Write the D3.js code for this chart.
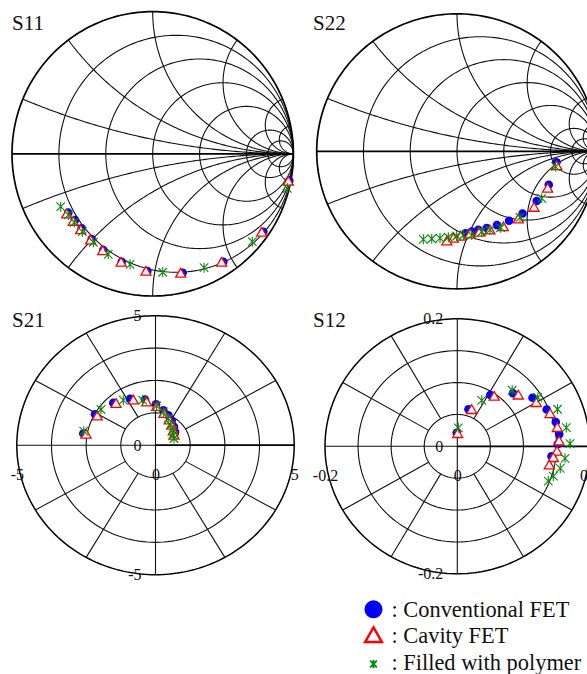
<!DOCTYPE html>
<html lang="en">
<head>
<meta charset="UTF-8">
<script src="https://d3js.org/d3.v7.min.js"></script>
<style>
  body { margin: 0; background: #fff; }
  svg { display: block; font-family: "Liberation Serif", "Times New Roman", serif; }
  .grid { fill: none; stroke: #111; stroke-width: 1.1px; }
  .rim { fill: none; stroke: #000; stroke-width: 1.7px; }
  .title { font-size: 21px; fill: #111; }
  .legend text { font-size: 22.4px; fill: #111; }
</style>
</head>
<body>
<svg id="chart"></svg>
<script>
// smith chart grid values
const smithR = [0.2, 0.5, 1, 2, 5, 10];
const smithX = [0.2, 0.5, 1, 2, 5, 10];

// polar grid
const polarRings = [0.25, 0.5, 0.75];
const spokeAngles = [30, 60, 120, 150, 210, 240, 300, 330];
const s21Ticks = [-5, 0, 5];
const s12Ticks = [-0.2, 0, 0.2];

const seriesNames = [": Conventional FET", ": Cavity FET", ": Filled with polymer"];

const s11Conv = [[0.971,-0.189],[0.786,-0.548],[0.502,-0.759],[0.213,-0.836],[-0.038,-0.824],[-0.220,-0.759],[-0.351,-0.677],[-0.434,-0.599],[-0.505,-0.524],[-0.552,-0.466],[-0.600,-0.414]];
const s11Cav = [[0.964,-0.200],[0.775,-0.559],[0.490,-0.770],[0.199,-0.847],[-0.048,-0.833],[-0.225,-0.770],[-0.355,-0.688],[-0.441,-0.613],[-0.512,-0.541],[-0.564,-0.482],[-0.611,-0.430]];
const s11Poly = [[0.957,-0.243],[0.708,-0.618],[0.365,-0.801],[0.071,-0.833],[-0.161,-0.777],[-0.316,-0.707],[-0.422,-0.622],[-0.500,-0.548],[-0.557,-0.482],[-0.600,-0.430],[-0.654,-0.372]];

const s22Conv = [[0.709,-0.080],[0.654,-0.243],[0.568,-0.361],[0.467,-0.452],[0.371,-0.505],[0.285,-0.537],[0.212,-0.558],[0.152,-0.570],[0.105,-0.583],[0.061,-0.596]];
const s22Cav = [[0.711,-0.112],[0.646,-0.276],[0.549,-0.415],[0.437,-0.500],[0.330,-0.556],[0.235,-0.580],[0.159,-0.596],[0.093,-0.609],[0.026,-0.625],[-0.026,-0.640],[-0.073,-0.660]];
const s22Poly = [[0.703,-0.112],[0.604,-0.342],[0.449,-0.480],[0.311,-0.556],[0.235,-0.572],[0.176,-0.585],[0.105,-0.609],[0.045,-0.609],[-0.002,-0.616],[-0.062,-0.625],[-0.121,-0.631],[-0.180,-0.636],[-0.240,-0.640]];

const s21Conv = [[-2.603,0.452],[-2.181,1.197],[-1.521,1.633],[-0.919,1.788],[-0.379,1.764],[0.018,1.583],[0.281,1.351],[0.461,1.158],[0.584,0.938],[0.667,0.707],[0.703,0.514]];
const s21Cav = [[-2.505,0.386],[-2.098,1.093],[-1.424,1.571],[-0.800,1.710],[-0.317,1.633],[0.043,1.456],[0.306,1.185],[0.497,0.938],[0.584,0.734],[0.642,0.514],[0.667,0.347]];
const s21Poly = [[-2.585,0.541],[-1.965,1.378],[-1.161,1.737],[-0.469,1.737],[0.043,1.517],[0.281,1.286],[0.461,1.031],[0.548,0.772],[0.620,0.579],[0.642,0.386],[0.667,0.259]];

const s12Conv = [[-0.0009,0.0212],[0.0169,0.0581],[0.0499,0.0805],[0.0842,0.0832],[0.1137,0.0761],[0.1352,0.0577],[0.1489,0.0381],[0.1541,0.0191],[0.1518,0.0031],[0.1424,-0.0157]];
const s12Cav = [[0.0006,0.0184],[0.0218,0.0560],[0.0558,0.0769],[0.0922,0.0788],[0.1194,0.0670],[0.1402,0.0497],[0.1512,0.0278],[0.1538,0.0067],[0.1507,-0.0094],[0.1452,-0.0193],[0.1391,-0.0309]];
const s12Poly = [[0.0015,0.0290],[0.0369,0.0722],[0.0830,0.0879],[0.1217,0.0766],[0.1515,0.0581],[0.1648,0.0293],[0.1704,0.0042],[0.1628,-0.0188],[0.1557,-0.0345],[0.1452,-0.0468],[0.1376,-0.0546]];

const W = 587, H = 674;
const blue = "#0000ff", red = "#ff0000", green = "#0a8a0a";

const panels = [
  {name: "S11", type: "smith", cx: 152.7, cy: 153.8, rx: 140.7, ry: 142.2, max: 1, tx: 12, ty: 29.5, data: [s11Conv, s11Cav, s11Poly]},
  {name: "S22", type: "smith", cx: 457, cy: 151.3, rx: 140.3, ry: 137.5, max: 1, tx: 313, ty: 29.5, data: [s22Conv, s22Cav, s22Poly]},
  {name: "S21", type: "polar", cx: 155.5, cy: 445.2, rx: 138.7, ry: 129.5, max: 5, ticks: s21Ticks, tx: 12, ty: 326.5, data: [s21Conv, s21Cav, s21Poly]},
  {name: "S12", type: "polar", cx: 457.3, cy: 446.3, rx: 132.3, ry: 127.5, max: 0.2, ticks: s12Ticks, tx: 313, ty: 326.5, data: [s12Conv, s12Cav, s12Poly]}
];

const svg = d3.select("#chart").attr("width", W).attr("height", H);

// asterisk: vertical bar plus an X
const asterisk = {
  draw(ctx, size) {
    const r = Math.sqrt(size) / 2;
    const u = r * 0.85;
    ctx.moveTo(0, -r); ctx.lineTo(0, r);
    ctx.moveTo(-u, -u); ctx.lineTo(u, u);
    ctx.moveTo(-u, u); ctx.lineTo(u, -u);
  }
};

function circlePts(c0, c1, rad, a0, a1, n) {
  return d3.range(n + 1).map(i => {
    const a = a0 + (a1 - a0) * i / n;
    return [c0 + rad * Math.cos(a), c1 + rad * Math.sin(a)];
  });
}

panels.forEach(p => {
  const x = d3.scaleLinear().domain([-p.max, p.max]).range([p.cx - p.rx, p.cx + p.rx]);
  const y = d3.scaleLinear().domain([-p.max, p.max]).range([p.cy + p.ry, p.cy - p.ry]);
  const line = d3.line().x(d => x(d[0])).y(d => y(d[1]));
  const g = svg.append("g");

  if (p.type === "smith") {
    // resistance circles
    smithR.forEach(r => {
      g.append("path").attr("class", "grid")
        .attr("d", line(circlePts(r / (1 + r), 0, 1 / (1 + r), 0, 2 * Math.PI, 200)));
    });
    // reactance arcs (only the part inside the unit circle)
    smithX.forEach(xv => {
      const R = 1 / xv;
      const px = (xv * xv - 1) / (xv * xv + 1), py = 2 * xv / (xv * xv + 1);
      let a0 = Math.atan2(py - R, px - 1);
      if (a0 < 0) a0 += 2 * Math.PI;
      const pts = circlePts(1, R, R, a0, 1.5 * Math.PI, 120);
      g.append("path").attr("class", "grid").attr("d", line(pts));
      g.append("path").attr("class", "grid").attr("d", line(pts.map(d => [d[0], -d[1]])));
    });
    g.append("path").attr("class", "rim").attr("d", line([[-1, 0], [1, 0]]));
    g.append("path").attr("class", "rim")
      .attr("d", line(circlePts(0, 0, 1, 0, 2 * Math.PI, 240)));
  } else {
    const m = p.max;
    polarRings.forEach(f => {
      g.append("path").attr("class", "grid")
        .attr("d", line(circlePts(0, 0, f * m, 0, 2 * Math.PI, 160)));
    });
    spokeAngles.forEach(a => {
      const t = a * Math.PI / 180;
      g.append("path").attr("class", "grid")
        .attr("d", line([[0.25 * m * Math.cos(t), 0.25 * m * Math.sin(t)], [m * Math.cos(t), m * Math.sin(t)]]));
    });
    g.append("path").attr("class", "grid").attr("d", line([[-m, 0], [0, 0]]));
    g.append("path").attr("class", "grid").attr("d", line([[0, -m], [0, m]]));
    g.append("path").attr("class", "rim").attr("d", line([[0, 0], [m, 0]]));
    g.append("path").attr("class", "rim").style("stroke-width", "1.5px")
      .attr("d", line(circlePts(0, 0, m, 0, 2 * Math.PI, 240)));

    const ax = g.append("g")
      .attr("transform", `translate(0,${y(0)})`)
      .call(d3.axisBottom(x).tickValues(p.ticks).tickSize(0).tickPadding(23).tickFormat(d => String(d)));
    const ay = g.append("g")
      .attr("transform", `translate(${x(0)},0)`)
      .call(d3.axisLeft(y).tickValues(p.ticks).tickSize(0).tickPadding(14).tickFormat(d => String(d)));
    [ax, ay].forEach(a => {
      a.select(".domain").remove();
      a.attr("font-family", null).attr("font-size", 16);
      a.selectAll("text").attr("fill", "#111");
    });
  }

  // markers
  g.selectAll(".conv").data(p.data[0]).enter().append("circle")
    .attr("cx", d => x(d[0])).attr("cy", d => y(d[1])).attr("r", 4.3)
    .attr("fill", blue);
  g.selectAll(".cav").data(p.data[1]).enter().append("path")
    .attr("d", d3.symbol().type(d3.symbolTriangle).size(44))
    .attr("transform", d => `translate(${x(d[0])},${y(d[1])})`)
    .attr("fill", "#fff").attr("stroke", red).attr("stroke-width", 1.3);
  g.selectAll(".poly").data(p.data[2]).enter().append("path")
    .attr("d", d3.symbol().type(asterisk).size(100))
    .attr("transform", d => `translate(${x(d[0])},${y(d[1])})`)
    .attr("fill", "none").attr("stroke", green).attr("stroke-width", 1.1);

  svg.append("text").attr("class", "title").attr("x", p.tx).attr("y", p.ty).text(p.name);
});

// legend
const legend = svg.append("g").attr("class", "legend");
const rowY = d3.scalePoint().domain(seriesNames).range([616.7, 669.5]);
legend.append("circle").attr("cx", 373.5).attr("cy", rowY(seriesNames[0]) - 7.4).attr("r", 9).attr("fill", blue);
legend.append("path")
  .attr("d", d3.symbol().type(d3.symbolTriangle).size(120))
  .attr("transform", `translate(373.5,${rowY(seriesNames[1]) - 6})`)
  .attr("fill", "#fff").attr("stroke", red).attr("stroke-width", 2.5);
legend.append("path")
  .attr("d", d3.symbol().type(asterisk).size(64))
  .attr("transform", `translate(373.5,${rowY(seriesNames[2]) - 5.5})`)
  .attr("fill", "none").attr("stroke", green).attr("stroke-width", 2);
legend.selectAll("text").data(seriesNames).enter().append("text")
  .attr("x", 391.5).attr("y", d => rowY(d))
  .text(d => d);
</script>
</body>
</html>
